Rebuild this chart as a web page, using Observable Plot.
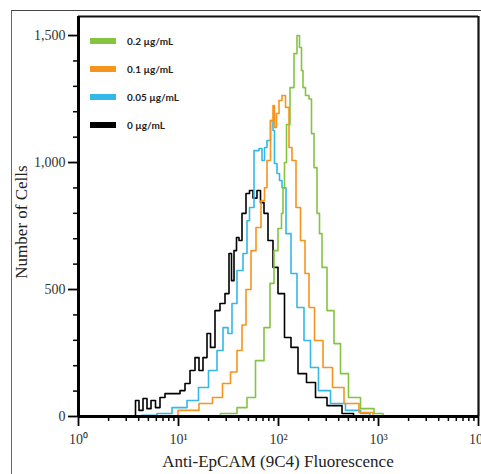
<!DOCTYPE html>
<html><head><meta charset="utf-8">
<script src="https://cdn.jsdelivr.net/npm/d3@7"></script>
<script src="https://cdn.jsdelivr.net/npm/@observablehq/plot@0.6"></script>
<style>
html,body{margin:0;padding:0;background:#fff;overflow:hidden;}
#wrap{position:relative;width:481px;height:474px;overflow:hidden;}
#outer{position:absolute;left:11px;top:10px;width:480px;height:470px;border-left:1.5px solid #666;border-top:1.5px solid #444;box-sizing:border-box;}
#chart{position:absolute;left:0;top:0;}
.sw{position:absolute;left:90px;width:26px;height:6px;}
.lt{position:absolute;left:127px;font-family:Lato,"Open Sans",sans-serif;font-weight:bold;font-size:10px;line-height:12px;color:#222;white-space:nowrap;}
.ttl{position:absolute;font-family:"Liberation Serif","Times New Roman",serif;color:#222;white-space:nowrap;}
</style></head>
<body><div id="wrap"><div id="outer"></div><div id="chart"></div>
<div id="legend"></div>
<div class="ttl" id="xt" style="left:0;width:556px;text-align:center;top:452px;font-size:17px;">Anti-EpCAM (9C4) Fluorescence</div>
<div class="ttl" id="yt" style="left:22px;top:222px;font-size:17px;transform:translate(-50%,-50%) rotate(-90deg);">Number of Cells</div>
</div>
<script>
const seriesNames = ["0 µg/mL","0.05 µg/mL","0.1 µg/mL","0.2 µg/mL"];
const seriesColors = ["#000000","#33b8e8","#f7941d","#84c441"];
const legendOrder = ["0.2 µg/mL","0.1 µg/mL","0.05 µg/mL","0 µg/mL"];
const xMajorTicks = [1,10,100,1000,10000];
const yMajorTicks = [0,500,1000,1500];
const yMax = 1575;

const blackLog   = [0.55,0.59,0.62,0.67,0.70,0.75,0.79,0.84,0.89,0.99,1.04,1.09,1.14,1.19,1.22,1.27,1.30,1.34,1.39,1.44,1.49,1.52,1.54,1.57,1.59,1.62,1.65,1.70,1.72,1.77,1.80,1.84,1.87,1.92,1.97,2.02,2.10,2.15,2.24,2.32,2.42,2.55,2.72,2.78];
const blackCount = [0,63,24,71,31,63,35,75,90,90,102,130,181,232,181,232,327,272,417,445,484,642,535,653,705,693,800,878,890,860,890,842,800,693,587,484,311,272,169,134,75,43,12,0];

const blueLog   = [0.55,0.72,0.85,1.02,1.15,1.25,1.35,1.42,1.47,1.52,1.55,1.62,1.67,1.70,1.72,1.79,1.82,1.85,1.87,1.90,1.94,1.95,1.97,2.00,2.02,2.05,2.10,2.15,2.22,2.29,2.35,2.45,2.59,2.75,2.89,2.94];
const blueCount = [0,5,12,35,63,114,181,260,350,327,445,575,642,771,823,1047,1055,1008,1059,1087,1165,1126,996,957,929,901,720,563,429,299,193,102,51,24,12,0];

const orangeLog   = [0.87,1.12,1.29,1.39,1.49,1.55,1.62,1.65,1.70,1.75,1.80,1.85,1.87,1.90,1.94,1.95,1.97,1.99,2.02,2.05,2.09,2.12,2.15,2.20,2.24,2.29,2.32,2.40,2.49,2.59,2.72,2.89,3.00];
const orangeCount = [0,24,51,75,130,175,260,360,500,653,744,850,901,1008,1165,1224,1138,1193,1244,1264,1217,1059,1008,823,693,563,429,299,193,114,51,16,0];

const greenLog   = [1.32,1.52,1.65,1.72,1.82,1.89,1.94,1.97,2.02,2.04,2.05,2.07,2.09,2.14,2.17,2.20,2.22,2.24,2.25,2.29,2.32,2.34,2.37,2.40,2.42,2.45,2.52,2.59,2.65,2.75,2.89,3.02,3.07];
const greenCount = [0,12,35,75,220,350,524,653,740,800,900,1000,1150,1295,1429,1500,1453,1362,1295,1264,1250,1114,980,800,720,587,417,287,169,75,31,12,0];

const rows = [];
function add(name, logs, counts){ logs.forEach((l,i)=>rows.push({series:name, fluor: 10**l, cells: counts[i]})); }
add(seriesNames[0], blackLog, blackCount);
add(seriesNames[1], blueLog, blueCount);
add(seriesNames[2], orangeLog, orangeCount);
add(seriesNames[3], greenLog, greenCount);

const xMinorTicks = [];
for (let k=0;k<4;k++) for (let m=2;m<10;m++) xMinorTicks.push(m*10**k);
const yMinorTicks = d3.range(0,1600,100).filter(v=>v%500!==0);
const sup = {"0":"⁰","1":"¹","2":"²","3":"³","4":"⁴"};
const serif = "Liberation Serif, Times New Roman, serif";

const chart = Plot.plot({
  width:481, height:474,
  marginLeft:78, marginRight:3, marginTop:16, marginBottom:58,
  style:{background:"transparent", overflow:"visible"},
  x:{type:"log", domain:[1,10000]},
  y:{domain:[0,yMax]},
  color:{domain:seriesNames, range:seriesColors},
  marks:[
    Plot.line(rows,{x:"fluor", y:"cells", z:"series", stroke:"series", strokeWidth:1.6, curve:"step"}),
    Plot.axisX(xMinorTicks,{tickSize:5, tickFormat:()=>"", strokeWidth:1.5, label:null}),
    Plot.axisX(xMajorTicks,{tickSize:10, tickPadding:8, strokeWidth:1.8, tickFormat:d=>"10"+sup[String(Math.round(Math.log10(d)))], fontSize:14, fontFamily:serif, fill:"#333", label:null}),
    Plot.axisY(yMinorTicks,{tickSize:5, tickFormat:()=>"", strokeWidth:1.5, label:null}),
    Plot.axisY(yMajorTicks,{tickSize:10, tickPadding:3, strokeWidth:1.8, fontSize:14, fontFamily:serif, fill:"#333", label:null}),
    Plot.ruleY([yMax],{stroke:"#111", strokeWidth:2.2}),
    Plot.ruleX([10000],{stroke:"#111", strokeWidth:2.2}),
    Plot.ruleY([0],{stroke:"#000", strokeWidth:3}),
    Plot.ruleX([1],{stroke:"#000", strokeWidth:3})
  ]
});
document.getElementById("chart").appendChild(chart);

const leg = document.getElementById("legend");
const yScale = chart.scale("y");
legendOrder.forEach((name,i)=>{
  const top = 40.5 + i*28.2;
  const c = seriesColors[seriesNames.indexOf(name)];
  const sw = document.createElement("div"); sw.className="sw"; sw.style.top=(top-3)+"px"; sw.style.background=c; leg.appendChild(sw);
  const t = document.createElement("div"); t.className="lt"; t.style.top=(top-6)+"px"; t.textContent=name; leg.appendChild(t);
});
</script></body></html>
